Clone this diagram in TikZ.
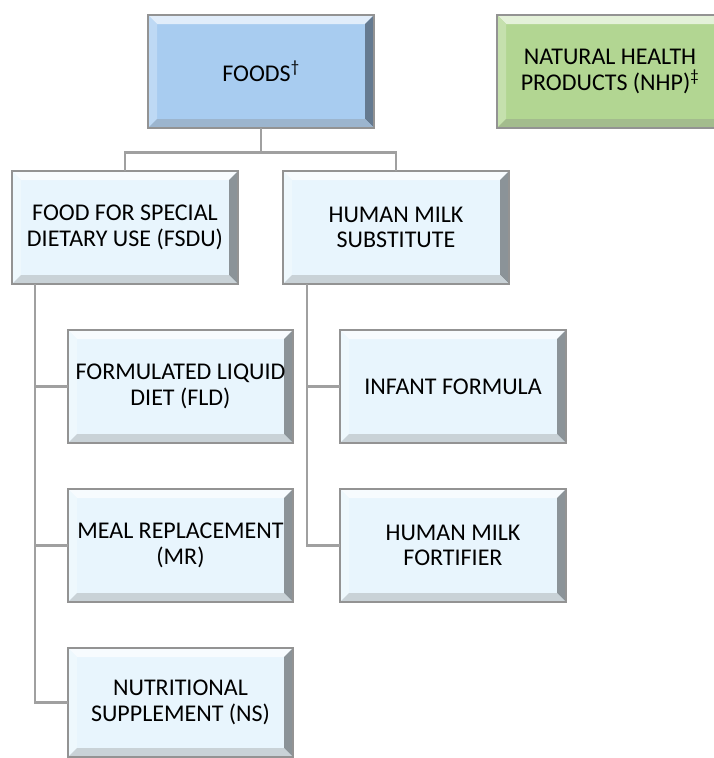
\documentclass[tikz,border=0pt]{standalone}
\usepackage{fontspec}
\setmainfont{Carlito}
\usetikzlibrary{calc}
\definecolor{foodblue}{RGB}{168,204,240}
\definecolor{nhpgreen}{RGB}{178,214,146}
\definecolor{subblue}{RGB}{232,245,253}
\definecolor{conngray}{RGB}{160,160,160}
\tikzset{
  conn/.style={draw=conngray, line width=2.6pt},
  boxtext/.style={inner sep=0pt, align=center, text=black,
    font=\fontsize{24}{25.5}\selectfont},
}
% name, x1, y1, x2, y2, colour, text
\newcommand\bevelbox[7]{%
  \fill[#6] (#2,#3) rectangle (#4,#5);
  \fill[#6!35!white] (#2,#3) -- (#4,#3) -- (#4-9,#3+9) -- (#2+9,#3+9) -- cycle;
  \fill[#6!75!white] (#2,#3) -- (#2+9,#3+9) -- (#2+9,#5-9) -- (#2,#5) -- cycle;
  \fill[#6!60!black] (#4,#3) -- (#4,#5) -- (#4-9,#5-9) -- (#4-9,#3+9) -- cycle;
  \fill[#6!70!gray] (#2,#5) -- (#4,#5) -- (#4-9,#5-9) -- (#2+9,#5-9) -- cycle;
  \draw[gray!85, line width=1.4pt] (#2,#3) rectangle (#4,#5);
  \node[boxtext, minimum width={#4-#2}, minimum height={#5-#3}] (#1)
    at ({(#2+#4)/2},{(#3+#5)/2}) {#7};
}
\begin{document}
\begin{tikzpicture}[x=1pt,y=-1pt]
\useasboundingbox (0,0) rectangle (713,758);
\bevelbox{foods}{148}{15}{374}{128}{foodblue}{FOODS\textsuperscript{†}}
\bevelbox{nhp}{497}{15}{723}{128}{nhpgreen}{NATURAL HEALTH\\PRODUCTS (NHP)\textsuperscript{‡}}
\bevelbox{fsdu}{12}{171}{238}{284}{subblue}{FOOD FOR SPECIAL\\DIETARY USE (FSDU)}
\bevelbox{hms}{283}{171}{509}{284}{subblue}{HUMAN MILK\\SUBSTITUTE}
\bevelbox{fld}{68}{330}{293}{443}{subblue}{FORMULATED LIQUID\\DIET (FLD)}
\bevelbox{if}{340}{330}{566}{443}{subblue}{INFANT FORMULA}
\bevelbox{mr}{68}{489}{293}{602}{subblue}{MEAL REPLACEMENT\\(MR)}
\bevelbox{hmf}{340}{489}{566}{602}{subblue}{HUMAN MILK\\FORTIFIER}
\bevelbox{ns}{68}{648}{293}{757}{subblue}{NUTRITIONAL\\SUPPLEMENT (NS)}
% connectors
\coordinate (j) at ($(foods.south)+(0,24)$);
\draw[conn] (foods.south) -- (j);
\draw[conn] (fsdu.north) |- (j) -| (hms.north);
\coordinate (s1) at ($(fsdu.south west)+(23,0)$);
\coordinate (s2) at ($(hms.south west)+(24,0)$);
\draw[conn] (s1) |- (ns.west);
\draw[conn] (fld.west) -- (fld.west -| s1);
\draw[conn] (mr.west) -- (mr.west -| s1);
\draw[conn] (s2) |- (hmf.west);
\draw[conn] (if.west) -- (if.west -| s2);
\end{tikzpicture}
\end{document}
